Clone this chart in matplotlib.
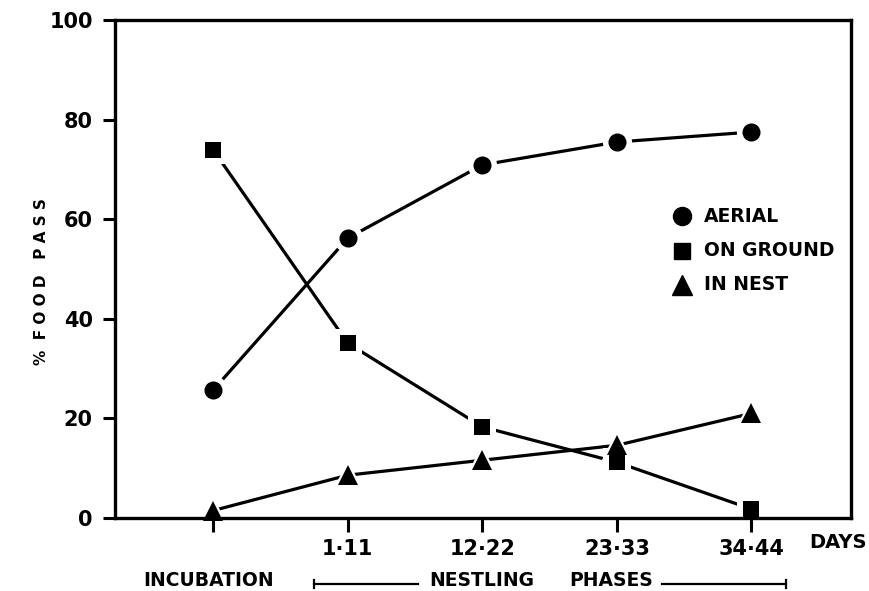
import matplotlib.pyplot as plt
from matplotlib.lines import Line2D

# Phases along the x axis
phases = ['', '1·11', '12·22', '23·33', '34·44']
aerial = [25.7, 56.2, 70.9, 75.5, 77.5]
on_ground = [73.9, 35.1, 18.3, 11.2, 1.8]
in_nest = [1.5, 8.6, 11.6, 14.6, 21.0]
y_ticks = [0, 20, 40, 60, 80, 100]
labels = ['AERIAL', 'ON GROUND', 'IN NEST']

font = ['DejaVu Sans']

fig = plt.figure(figsize=(8.69, 5.91), dpi=100)
ax = fig.add_axes([115 / 869, 1 - 518 / 591, 736 / 869, 498 / 591])
ax.set_axisbelow(False)  # ticks above the white halos

x = list(range(len(phases)))
series = [(aerial, 'o', 13), (on_ground, 's', 12), (in_nest, '^', 14)]
for vals, m, ms in series:
    ax.plot(x, vals, color='black', lw=2.3, zorder=2)
    # white halo that breaks the line around each marker
    ax.plot(x, vals, ls='none', marker=m, ms=ms + 8, mfc='white',
            mew=0, zorder=2.2, clip_on=False)
    ax.plot(x, vals, ls='none', marker=m, ms=ms, mfc='black',
            mew=0, zorder=3, clip_on=False)

ax.set_xlim(-0.73, 4.74)
ax.set_ylim(0, 100)
ax.set_xticks(x)
ax.set_xticklabels(phases, family=font, fontweight='bold', fontsize=15)
ax.set_yticks(y_ticks)
ax.set_yticklabels([str(v) for v in y_ticks], family=font,
                   fontweight='bold', fontsize=15)
ax.tick_params(axis='x', length=10, width=2.2, pad=5)
ax.tick_params(axis='y', length=9, width=2.2, pad=7)
for s in ax.spines.values():
    s.set_linewidth(2.4)
    s.set_zorder(2.6)

fig.text(42 / 869, 1 - 282 / 591, '%  F O O D   P A S S', family=font,
         fontweight='bold', fontsize=11, rotation=90, ha='center', va='center')

# legend drawn by hand, in axes fraction
lx = (682 - 115) / 736
tx = (704 - 115) / 736
for (_, m, ms), lab, py in zip(series, labels, [216, 251, 285]):
    yy = (518 - py) / 498
    ax.plot([lx], [yy], ls='none', marker=m, ms=ms, color='black',
            transform=ax.transAxes, clip_on=False)
    ax.text(tx, yy, lab, transform=ax.transAxes, family=font,
            fontweight='bold', fontsize=13.5, ha='left', va='center')

fig.text(867 / 869, 1 - 543 / 591, 'DAYS', family=font,
         fontweight='bold', fontsize=14, ha='right', va='center')
fig.text(209 / 869, 1 - 580 / 591, 'INCUBATION', family=font,
         fontweight='bold', fontsize=13.5, ha='center', va='center')
fig.text(482 / 869, 1 - 580 / 591, 'NESTLING', family=font,
         fontweight='bold', fontsize=13.5, ha='center', va='center')
fig.text(611 / 869, 1 - 580 / 591, 'PHASES', family=font,
         fontweight='bold', fontsize=13.5, ha='center', va='center')

# bracket lines for the nestling phases
yb = 1 - 584 / 591
for x0, x1, xe in [(314, 418, 314), (662, 786, 786)]:
    fig.add_artist(Line2D([x0 / 869, x1 / 869], [yb, yb], color='black', lw=1.6))
    fig.add_artist(Line2D([xe / 869, xe / 869], [yb - 0.007, yb + 0.007],
                          color='black', lw=1.6))

fig.savefig('out.png', dpi=100)
